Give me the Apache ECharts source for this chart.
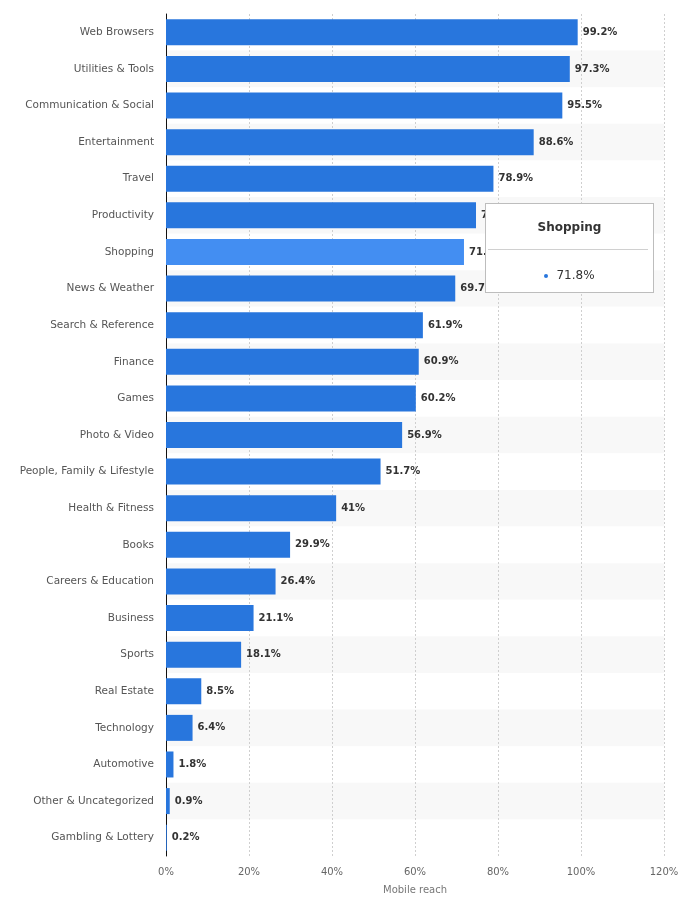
<!DOCTYPE html>
<html><head><meta charset="utf-8">
<script src="https://cdn.jsdelivr.net/npm/echarts@6/dist/echarts.min.js"></script>
<style>html,body{margin:0;padding:0;background:#fff}#c{width:695px;height:910px}</style>
</head><body><div id="c"></div>
<script>
const categories = ["Web Browsers","Utilities & Tools","Communication & Social","Entertainment","Travel","Productivity","Shopping","News & Weather","Search & Reference","Finance","Games","Photo & Video","People, Family & Lifestyle","Health & Fitness","Books","Careers & Education","Business","Sports","Real Estate","Technology","Automotive","Other & Uncategorized","Gambling & Lottery"];
const values = [99.2,97.3,95.5,88.6,78.9,74.7,71.8,69.7,61.9,60.9,60.2,56.9,51.7,41,29.9,26.4,21.1,18.1,8.5,6.4,1.8,0.9,0.2];
const xTicks = [0,20,40,60,80,100,120];
const highlighted = "Shopping";
const FONT = "'DejaVu Sans', Verdana, sans-serif";

const chart = echarts.init(document.getElementById('c'), null, {renderer:'canvas'});
chart.setOption({
  animation:false,
  textStyle:{fontFamily:FONT},
  grid:{left:166,right:31,top:14,bottom:54,containLabel:false},
  tooltip:{
    trigger:'item', triggerOn:'none', alwaysShowContent:true,
    backgroundColor:'#fff', borderColor:'#bdbdbd', borderWidth:1, padding:0,
    extraCssText:'box-shadow:none;border-radius:0;',
    position:function(){return [485,203];},
    formatter:function(p){
      return '<div style="width:167px;height:88px;font-family:'+"DejaVu Sans"+';">'+
        '<div style="text-align:center;font-weight:bold;font-size:12px;color:#333;padding-top:13px;height:30px;box-sizing:border-box;">'+p.name+'</div>'+
        '<div style="margin:15px 5px 0 2px;border-top:1px solid #d0d0d0;"></div>'+
        '<div style="text-align:center;font-size:12px;color:#333;padding-top:15px;"><span style="display:inline-block;width:4px;height:4px;border-radius:2px;background:#2876dd;vertical-align:middle;margin-right:8px;"></span>'+p.value+'%</div>'+
        '</div>';
    }
  },
  xAxis:{
    type:'value', min:0, max:120, interval:20,
    name:'Mobile reach', nameLocation:'middle', nameGap:29,
    nameTextStyle:{color:'#777',fontSize:10,fontFamily:FONT},
    axisLine:{show:false}, axisTick:{show:false},
    axisLabel:{color:'#666',fontSize:10,margin:11,fontFamily:FONT,
      formatter:function(v){return xTicks.indexOf(v)>=0? v+'%':'';}},
    splitLine:{show:true,lineStyle:{color:'#cfcfcf',type:[2,2],width:1}}
  },
  yAxis:{
    type:'category', data:categories, inverse:true,
    axisLine:{show:true,lineStyle:{color:'#111',width:1}},
    axisTick:{show:false},
    axisLabel:{color:'#555',fontSize:10.5,margin:12,fontFamily:FONT},
    splitArea:{show:true,areaStyle:{color:['#ffffff','#f8f8f8']}}
  },
  series:[{
    type:'bar', barCategoryGap:'29%',
    data: values.map(function(v,i){
      return categories[i]===highlighted ? {value:v,itemStyle:{color:'#438ef2'}} : v;
    }),
    itemStyle:{color:'#2876dd'},
    label:{show:true,position:'right',distance:5,color:'#333',fontWeight:'bold',fontSize:10,fontFamily:FONT,
      formatter:function(p){return p.value+'%';}},
    emphasis:{disabled:true}
  }]
});
chart.dispatchAction({type:'showTip',seriesIndex:0,dataIndex:categories.indexOf(highlighted)});
</script>
</body></html>
